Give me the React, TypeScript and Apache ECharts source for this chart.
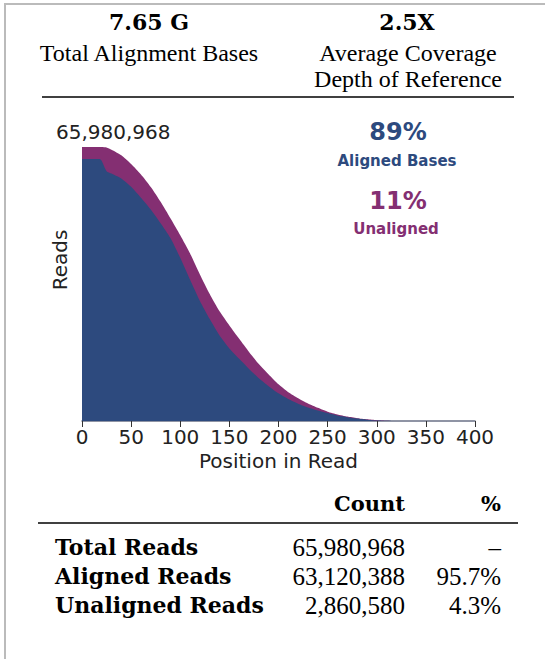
import React, { useEffect, useRef } from "react";
import * as echarts from "echarts";

const positions = [0, 5, 10, 15, 18, 20, 25, 30, 40, 50, 60, 70, 80, 90, 100, 110, 120, 130, 140, 150, 160, 170, 180, 190, 200, 210, 220, 230, 240, 250, 260, 270, 280, 290, 300, 310, 320, 400];
// reads (millions) covering each position
const totalReadsM = [65.98, 65.98, 65.98, 65.98, 65.98, 65.98, 65.85, 65.32, 64.0, 61.89, 59.38, 56.35, 52.78, 48.83, 44.74, 40.35, 35.3, 30.6, 26.4, 23.0, 19.79, 16.63, 13.72, 11.22, 8.84, 6.93, 5.48, 4.22, 3.17, 2.24, 1.58, 1.06, 0.66, 0.4, 0.2, 0.07, 0, 0];
const alignedReadsM = [63.08, 63.08, 63.08, 63.08, 63.08, 62.68, 60.17, 59.58, 58.39, 56.41, 53.77, 50.94, 47.64, 44.08, 39.3, 34.0, 28.9, 24.55, 20.59, 17.48, 14.98, 12.54, 10.29, 8.38, 6.66, 5.28, 4.16, 3.23, 2.51, 1.91, 1.32, 0.92, 0.59, 0.33, 0.13, 0.07, 0, 0];
const maxReadsM = 65.980968;
const maxLabel = "65,980,968";

const headerValues = ["7.65 G", "2.5X"];
const headerLabels = [["Total Alignment Bases"], ["Average Coverage", "Depth of Reference"]];

const pctTexts = ["89%", "11%"];
const pctLabels = ["Aligned Bases", "Unaligned"];

const tableHeads = ["Count", "%"];
const rowLabels = ["Total Reads", "Aligned Reads", "Unaligned Reads"];
const rowCounts = ["65,980,968", "63,120,388", "2,860,580"];
const rowPcts = ["–", "95.7%", "4.3%"];

const BLUE = "#2d4a7e";
const MAGENTA = "#842f72";
const SERIF_BOLD = "DejaVu Serif";
const SERIF = "Liberation Serif";
const SANS = "DejaVu Sans";

export default function App() {
  const ref = useRef<HTMLDivElement>(null);
  useEffect(() => {
    if (!ref.current) return;
    const chart = echarts.init(ref.current, undefined, { renderer: "svg" });
    const txt = (text: string, x: number, y: number, family: string, size: number, weight: any, fill: string, align: string, extra: any = {}) => ({
      type: "text",
      x,
      y,
      ...extra,
      style: { text, fontFamily: family, fontSize: size, fontWeight: weight, fill, textAlign: align, textVerticalAlign: "middle" },
    });
    const graphics: any[] = [
      { type: "line", shape: { x1: 5, y1: 3, x2: 5, y2: 659 }, style: { stroke: "#bbbbbb", lineWidth: 2 } },
      { type: "line", shape: { x1: 4, y1: 4, x2: 545, y2: 4 }, style: { stroke: "#bbbbbb", lineWidth: 2 } },
      txt(headerValues[0], 149, 22, SERIF_BOLD, 22, "bold", "#000", "center"),
      txt(headerValues[1], 407, 22, SERIF_BOLD, 22, "bold", "#000", "center"),
      txt(headerLabels[0][0], 149, 53, SERIF, 24, "normal", "#000", "center"),
      txt(headerLabels[1][0], 408, 53, SERIF, 24, "normal", "#000", "center"),
      txt(headerLabels[1][1], 408, 79, SERIF, 24, "normal", "#000", "center"),
      { type: "line", shape: { x1: 42, y1: 97, x2: 514, y2: 97 }, style: { stroke: "#000", lineWidth: 1.3 } },
      txt(maxLabel, 56, 132, SANS, 20, "normal", "#222", "left"),
      txt("Reads", 60, 260, SANS, 20, "normal", "#222", "center", { rotation: Math.PI / 2 }),
      txt(pctTexts[0], 398, 132, SANS, 24, "bold", BLUE, "center"),
      txt(pctLabels[0], 397, 161, SANS, 15, "bold", BLUE, "center"),
      txt(pctTexts[1], 398, 201, SANS, 24, "bold", MAGENTA, "center"),
      txt(pctLabels[1], 396, 229, SANS, 15, "bold", MAGENTA, "center"),
      txt(tableHeads[0], 405, 503, SERIF_BOLD, 21, "bold", "#000", "right"),
      txt(tableHeads[1], 501, 503, SERIF_BOLD, 21, "bold", "#000", "right"),
      { type: "line", shape: { x1: 38, y1: 523, x2: 518, y2: 523 }, style: { stroke: "#000", lineWidth: 1.3 } },
    ];
    const rowY = [547, 576, 605];
    rowLabels.forEach((l, i) => {
      graphics.push(txt(l, 55, rowY[i], SERIF_BOLD, 22, "bold", "#000", "left"));
      graphics.push(txt(rowCounts[i], 405, rowY[i], SERIF, 25, "normal", "#000", "right"));
      graphics.push(txt(rowPcts[i], 501, rowY[i], SERIF, 25, "normal", "#000", "right"));
    });

    chart.setOption({
      animation: false,
      backgroundColor: "#fff",
      grid: { left: 82, right: 70, top: 147, bottom: 238, containLabel: false },
      xAxis: {
        type: "value",
        min: 0,
        max: 400,
        interval: 50,
        name: "Position in Read",
        nameLocation: "middle",
        nameGap: 30,
        nameTextStyle: { fontFamily: SANS, fontSize: 20, color: "#222" },
        axisLine: { show: true, lineStyle: { color: "#6b7286", width: 1.5 } },
        axisTick: { show: true, length: 6, lineStyle: { color: "#333", width: 1 } },
        axisLabel: { fontFamily: SANS, fontSize: 20, color: "#222", margin: 6 },
        splitLine: { show: false },
      },
      yAxis: {
        type: "value",
        min: 0,
        max: maxReadsM,
        axisLine: { show: false },
        axisTick: { show: false },
        axisLabel: { show: false },
        splitLine: { show: false },
      },
      series: [
        {
          type: "line",
          data: positions.map((p, i) => [p, totalReadsM[i]]),
          showSymbol: false,
          smooth: 0.2,
          lineStyle: { width: 0 },
          areaStyle: { color: MAGENTA, opacity: 1 },
          z: 1,
        },
        {
          type: "line",
          data: positions.map((p, i) => [p, alignedReadsM[i]]),
          showSymbol: false,
          smooth: 0.2,
          lineStyle: { width: 0 },
          areaStyle: { color: BLUE, opacity: 1 },
          z: 2,
        },
      ],
      graphic: graphics,
    });
    return () => chart.dispose();
  }, []);
  return <div ref={ref} style={{ position: "absolute", left: 0, top: 0, width: 545, height: 659 }} />;
}
